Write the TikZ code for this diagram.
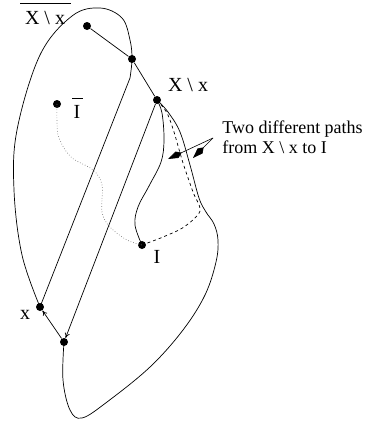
\documentclass[tikz,border=0pt]{standalone}
\usepackage{fontspec}
\setmainfont{Liberation Serif}
\usetikzlibrary{arrows.meta}

\tikzset{
  dot/.style={circle, fill=black, inner sep=0pt, minimum size=8pt},
  lbl/.style={font=\fontsize{20}{22}\selectfont, inner sep=1pt},
  note/.style={font=\fontsize{18}{20}\selectfont, align=left, inner sep=0pt},
  pointer/.style={-{Kite[length=15pt, width=7pt, inset=5pt]}, line width=0.6pt},
  bar/.style={line width=1pt},
}

\begin{document}
\begin{tikzpicture}[x=1pt, y=-1pt, line width=0.7pt, >={To[length=5pt, width=5pt]}]

    \useasboundingbox (0,0) rectangle (365,423);

    % =================================================================
    % 1. POINTS
    % =================================================================
    \node[dot] (A)    at (87,26)  {};
    \node[dot] (B)    at (132,59) {};
    \node[dot] (C)    at (157,100) {};
    \node[dot] (Ibar) at (57,104) {};
    \node[dot] (I)    at (142,245) {};
    \node[dot] (xdot) at (40,307) {};
    \node[dot] (D)    at (64,342) {};

    % kink of the upper region below B
    \coordinate (Bkink) at (130,78);

    % ends of the two pointers
    \coordinate (tail) at (213,138);
    \coordinate (tipa) at (168,159);
    \coordinate (tipb) at (193,158);

    % =================================================================
    % 2. THE TWO REGIONS
    % =================================================================
    % upper region (complement)
    \draw plot[smooth, tension=0.6] coordinates {(xdot.center) (22,255) (14,190)
        (17,130) (40,55) (72,16) (100,8) (122,18) (130,40) (B.center) (Bkink)}
        -- (xdot.center);

    % lower region
    \draw plot[smooth, tension=0.6] coordinates {(D.center) (63,380) (70,410)
        (82,418) (107,402) (150,367) (183,330) (205,295) (216,262) (218,240)
        (214,224) (206,212) (199,198) (190,165) (180,132) (168,112) (C.center)};

    % =================================================================
    % 3. EDGES AND PATHS
    % =================================================================
    \draw (A) -- (B);
    \draw (B) -- (C);
    \draw[->] (C) -- (D);
    \draw[->] (D) -- (xdot);

    % solid path from X\x to I
    \draw plot[smooth, tension=0.6] coordinates {(C.center) (162,113) (164,140)
        (161,162) (149,186) (138,207) (135,225) (I.center)};

    % dashed path from X\x to I
    \draw[dashed] plot[smooth, tension=0.5] coordinates {(C.center) (167,113)
        (174,132) (183,163) (193,192) (200,211) (184,227) (163,237) (I.center)};

    % dotted path from I-bar to I
    \draw[dotted, gray] plot[smooth, tension=0.6] coordinates {(Ibar.center)
        (57,122) (59,138) (71,157) (93,170) (102,185) (102,212) (110,227)
        (127,240) (I.center)};

    % =================================================================
    % 4. LABELS
    % =================================================================
    \node[lbl] (lXcomp) at (45,18) {X \textbackslash\ x};
    \draw[bar] (20,3) -- (71,3);
    \node[lbl] (lX)     at (188,85) {X \textbackslash\ x};
    \node[lbl] (lIbar)  at (77,112) {I};
    \draw[bar] (72,98) -- (83,98);
    \node[lbl] (lI)     at (157,257) {I};
    \node[lbl] (lx)     at (25,315) {x};

    \node[note, anchor=north west] (lnote) at (222,120)
        {Two different paths\\from X \textbackslash\ x to I};
    \draw[pointer] (tail) -- (tipa);
    \draw[pointer] (tail) -- (tipb);

\end{tikzpicture}
\end{document}
